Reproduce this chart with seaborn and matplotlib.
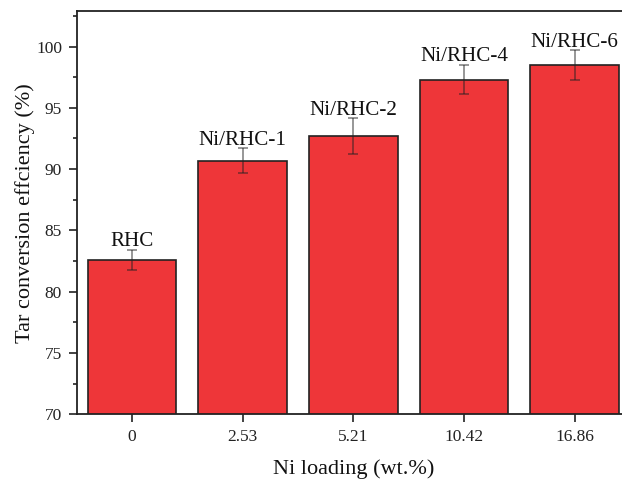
import matplotlib
matplotlib.use("Agg")
import matplotlib.pyplot as plt
import seaborn as sns
import pandas as pd
import numpy as np
from matplotlib.ticker import MultipleLocator

loadings = ["0", "2.53", "5.21", "10.42", "16.86"]
samples = ["RHC", "Ni/RHC-1", "Ni/RHC-2", "Ni/RHC-4", "Ni/RHC-6"]
efficiency = [82.6, 90.7, 92.7, 97.3, 98.5]
errors = [0.8, 1.0, 1.45, 1.2, 1.2]

df = pd.DataFrame({"loading": loadings, "eff": efficiency})

sns.set_style("ticks")
plt.rcParams["font.family"] = ["Liberation Serif", "DejaVu Serif"]

fig = plt.figure(figsize=(6.22, 4.79), dpi=100)
ax = fig.add_axes([76.7 / 622, 1 - 414.3 / 479, (630 - 76.7) / 622, (414.3 - 11) / 479])

sns.barplot(data=df, x="loading", y="eff", order=loadings, color="#ee3639",
            saturation=1, width=0.8, edgecolor="#222222", linewidth=1.2, ax=ax)

xpos = np.arange(len(loadings))
ax.errorbar(xpos, efficiency, yerr=errors, fmt="none", ecolor="#222222",
            alpha=0.55, elinewidth=1.2, capsize=3.6, capthick=1.2, zorder=5)

for x, y, e, s in zip(xpos, efficiency, errors, samples):
    ax.text(x, y + e + 0.3, s, ha="center", va="baseline", fontsize=15.2, color="#111111")

ax.set_ylim(70, 102.9)
ax.set_xlim(-0.5, 4.5)
ax.yaxis.set_major_locator(MultipleLocator(5))
ax.yaxis.set_minor_locator(MultipleLocator(2.5))
ax.tick_params(axis="both", which="major", direction="out", length=5.5, width=1.2,
               labelsize=12.5, colors="#222222", pad=5)
ax.tick_params(axis="y", which="minor", direction="out", length=3, width=1.2, colors="#222222")
ax.set_ylabel("Tar conversion effciency (%)", fontsize=16, color="#111111", labelpad=1)
ax.set_xlabel("Ni loading (wt.%)", fontsize=16, color="#111111", labelpad=10)
for sp in ax.spines.values():
    sp.set_visible(True)
    sp.set_linewidth(1.3)
    sp.set_color("#222222")

fig.savefig("out.png", dpi=100)
